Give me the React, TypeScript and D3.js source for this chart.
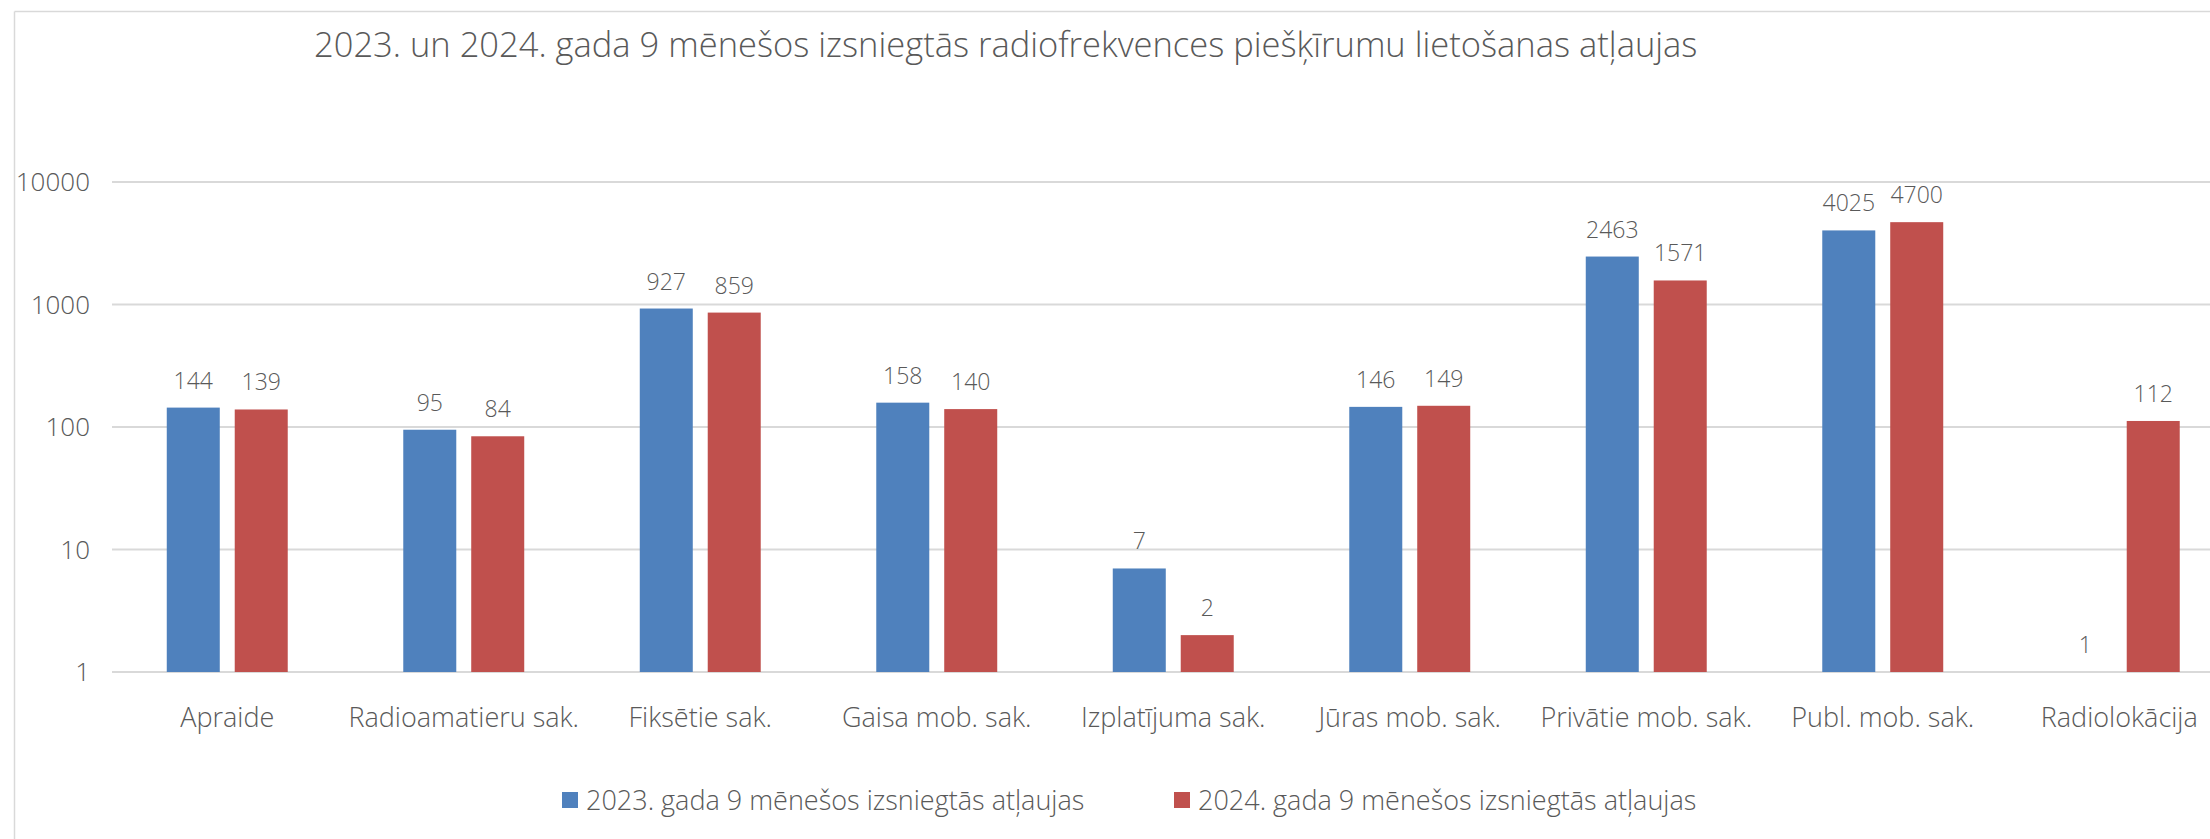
import React from "react";
import * as d3 from "d3";

const categories = [
  "Apraide",
  "Radioamatieru sak.",
  "Fiksētie sak.",
  "Gaisa mob. sak.",
  "Izplatījuma sak.",
  "Jūras mob. sak.",
  "Privātie mob. sak.",
  "Publ. mob. sak.",
  "Radiolokācija",
];
const series2023 = [144, 95, 927, 158, 7, 146, 2463, 4025, 1];
const series2024 = [139, 84, 859, 140, 2, 149, 1571, 4700, 112];
const seriesNames = [
  "2023. gada 9 mēnešos izsniegtās atļaujas",
  "2024. gada 9 mēnešos izsniegtās atļaujas",
];
const yTicks = [1, 10, 100, 1000, 10000];
const title =
  "2023. un 2024. gada 9 mēnešos izsniegtās radiofrekvences piešķīrumu lietošanas atļaujas";

const W = 2210;
const H = 839;
const COLORS = ["#4F81BD", "#C0504D"];
const TEXT = "#595959";
const GRID = "#D9D9D9";
const FONT = "'Open Sans', 'Noto Sans', sans-serif";

export default function App() {
  const plotLeft = 109;
  const step = 236.5;
  const x0 = d3
    .scaleBand<string>()
    .domain(categories)
    .range([plotLeft, plotLeft + step * categories.length])
    .paddingInner(0)
    .paddingOuter(0);
  const x1 = d3
    .scaleBand<string>()
    .domain(["a", "b"])
    .range([0, x0.bandwidth()])
    .paddingInner(0.22)
    .paddingOuter(0.85);
  const y = d3.scaleLog().domain([1, 10000]).range([672, 182]);
  const data = [series2023, series2024];
  const keys = ["a", "b"];

  return (
    <svg
      width={W}
      height={H}
      style={{ position: "absolute", left: 0, top: 0, background: "#fff" }}
      fontFamily={FONT}
    >
      <rect x={0} y={0} width={W} height={H} fill="#fff" />
      <line x1={14.5} y1={11.5} x2={W} y2={11.5} stroke={GRID} strokeWidth={1.5} />
      <line x1={14.5} y1={11.5} x2={14.5} y2={H} stroke={GRID} strokeWidth={1.5} />
      <text x={314} y={57} fontSize={34.5} fill={TEXT} fontWeight={300}>
        {title}
      </text>
      {yTicks.map((t) => (
        <g key={t}>
          <line x1={112} x2={W} y1={y(t)} y2={y(t)} stroke={GRID} strokeWidth={2} />
          <text
            x={90}
            y={y(t)}
            dy="0.35em"
            textAnchor="end"
            fontSize={26}
            fill={TEXT}
            fontWeight={300}
          >
            {t}
          </text>
        </g>
      ))}
      {categories.map((c, i) => (
        <g key={c} transform={`translate(${x0(c)},0)`}>
          {data.map((s, k) => {
            const v = s[i];
            const top = y(v);
            const bx = x1(keys[k])!;
            return (
              <g key={k}>
                <rect
                  x={bx}
                  y={top}
                  width={x1.bandwidth()}
                  height={y(1) - top}
                  fill={COLORS[k]}
                />
                <text
                  x={bx + x1.bandwidth() / 2}
                  y={top - 19}
                  textAnchor="middle"
                  fontSize={23}
                  fill={TEXT}
                  fontWeight={300}
                >
                  {v}
                </text>
              </g>
            );
          })}
          <text
            x={x0.bandwidth() / 2}
            y={727}
            textAnchor="middle"
            fontSize={27}
            fill={TEXT}
            fontWeight={300}
          >
            {c}
          </text>
        </g>
      ))}
      {seriesNames.map((n, k) => {
        const lx = k === 0 ? 562 : 1174;
        return (
          <g key={n}>
            <rect x={lx} y={792} width={16} height={16} fill={COLORS[k]} />
            <text x={lx + 24} y={810} fontSize={27} fill={TEXT} fontWeight={300}>
              {n}
            </text>
          </g>
        );
      })}
    </svg>
  );
}
